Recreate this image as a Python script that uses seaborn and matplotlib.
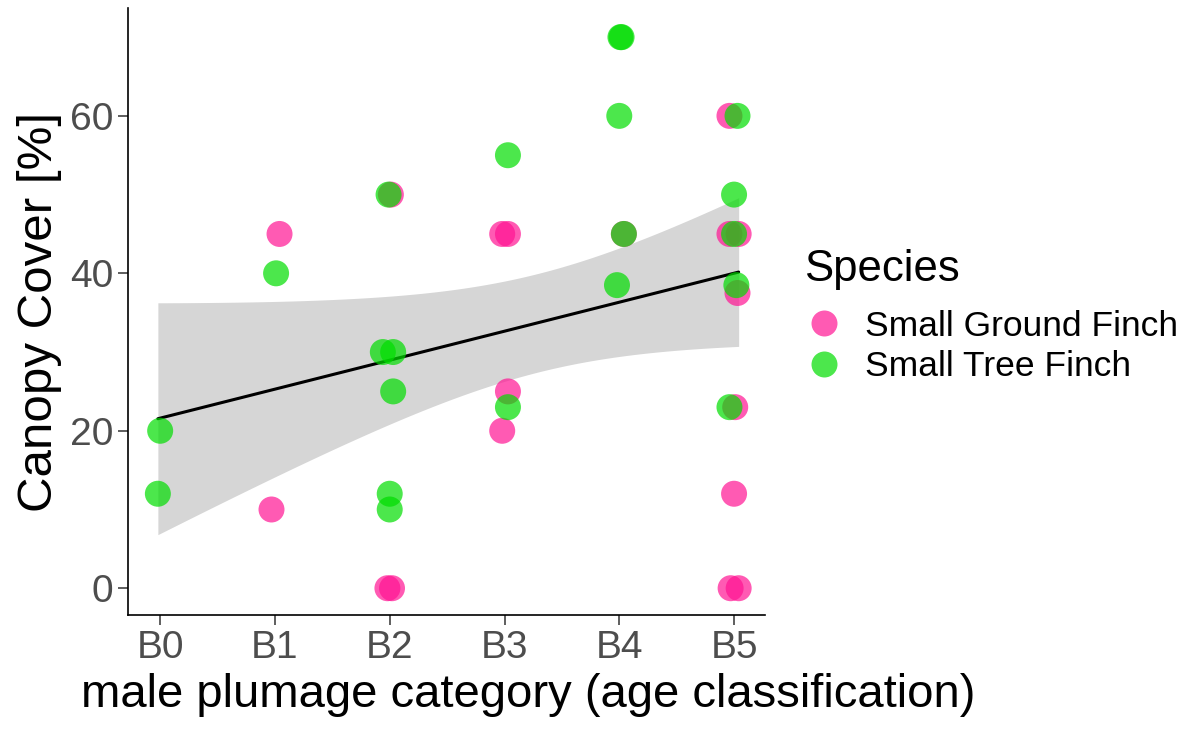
import numpy as np
import pandas as pd
import matplotlib
matplotlib.use("Agg")
import matplotlib.pyplot as plt
import seaborn as sns

# plumage category index (B0..B5), canopy cover, species, read-off jitter
cat_labels = ["B0", "B1", "B2", "B3", "B4", "B5"]

plumage = [0, 0,
           1, 1, 1,
           2, 2, 2, 2, 2, 2, 2, 2, 2,
           3, 3, 3, 3, 3, 3,
           4, 4, 4, 4, 4, 4,
           5, 5, 5, 5, 5, 5, 5, 5, 5, 5, 5, 5, 5]
canopy = [20, 12,
          45, 40, 10,
          50, 50, 30, 30, 25, 12, 10, 0, 0,
          55, 45, 45, 25, 23, 20,
          70, 70, 60, 45, 45, 38.5,
          60, 60, 50, 45, 45, 45, 38.5, 37.5, 23, 23, 12, 0, 0]
species = ["T", "T",
           "G", "T", "G",
           "G", "T", "T", "T", "T", "T", "T", "G", "G",
           "T", "G", "G", "G", "T", "G",
           "T", "T", "T", "G", "T", "T",
           "G", "T", "T", "G", "G", "T", "T", "G", "T", "G", "G", "G", "G"]
jitter = [0.0, -0.02,
          0.04, 0.01, -0.03,
          0.01, -0.01, -0.06, 0.03, 0.03, 0.0, 0.0, -0.02, 0.02,
          0.03, -0.02, 0.03, 0.03, 0.03, -0.02,
          0.01, 0.02, 0.0, 0.04, 0.04, -0.02,
          -0.04, 0.03, 0.0, -0.04, 0.04, 0.0, 0.02, 0.03, -0.04, 0.01, 0.0, -0.03, 0.04]

names = {"G": "Small Ground Finch", "T": "Small Tree Finch"}
palette = {"Small Ground Finch": "#FF1493", "Small Tree Finch": "#00DD00"}

df = pd.DataFrame({"plumage": plumage, "canopy": canopy,
                   "species": [names[s] for s in species]})
df["x"] = df["plumage"] + np.array(jitter)
# pink points go under the green ones, like in the original
df["order"] = df["species"].map({"Small Ground Finch": 0, "Small Tree Finch": 1})
df = df.sort_values("order", kind="stable")

sns.set_style("white")
plt.rcParams["font.family"] = ["Liberation Sans", "DejaVu Sans"]
plt.rcParams["text.color"] = "black"
plt.rcParams["axes.labelcolor"] = "black"

fig = plt.figure(figsize=(11.81, 7.29), dpi=100)
ax = fig.add_axes([0.1084, 0.1564, 0.5394, 0.8326])

# linear fit with the usual t-based 95% band (like lm smoothing)
xs = df["x"].to_numpy()
ys = df["canopy"].to_numpy()
n = len(xs)
slope, intercept = np.polyfit(xs, ys, 1)
grid = np.linspace(xs.min(), xs.max(), 100)
resid = ys - (intercept + slope * xs)
s_err = np.sqrt(np.sum(resid ** 2) / (n - 2))
sxx = np.sum((xs - xs.mean()) ** 2)
se_fit = s_err * np.sqrt(1.0 / n + (grid - xs.mean()) ** 2 / sxx)
t_crit = 2.026  # t(0.975, df=37)
fit = intercept + slope * grid
ax.fill_between(grid, fit - t_crit * se_fit, fit + t_crit * se_fit,
                color="#999999", alpha=0.4, lw=0, zorder=1)
sns.lineplot(x=grid, y=fit, color="black", lw=2.2, ax=ax, zorder=2)

sns.scatterplot(data=df, x="x", y="canopy", hue="species", palette=palette,
                s=350, alpha=0.7, edgecolor="none", ax=ax, legend=True, zorder=3)

ax.set_xlim(-0.28, 5.27)
ax.set_ylim(-3.4, 73.7)
ax.set_xticks(range(6))
ax.set_xticklabels(cat_labels)
ax.set_yticks([0, 20, 40, 60])
ax.tick_params(axis="both", labelsize=28, colors="#333333", labelcolor="#4D4D4D",
               length=7, width=1.1, direction="out", left=True, bottom=True)
ax.set_xlabel("male plumage category (age classification)", fontsize=34, labelpad=4)
ax.xaxis.set_label_coords(0.628, -0.095)
ax.set_ylabel("Canopy Cover [%]", fontsize=35.5, labelpad=6)
sns.despine(ax=ax)
for side in ["left", "bottom"]:
    ax.spines[side].set_color("black")
    ax.spines[side].set_linewidth(1.2)

handles, labels = ax.get_legend_handles_labels()
leg = ax.legend(handles, labels, title="Species", loc="upper left",
                bbox_to_anchor=(0.669, 0.6775), bbox_transform=fig.transFigure,
                frameon=False, fontsize=25.5, title_fontsize=31.5, markerscale=1.0,
                handletextpad=0.62, labelspacing=0.215, borderaxespad=0,
                handlelength=1.1)
leg._legend_box.align = "left"
leg._legend_box.sep = 14

fig.savefig("out.png", dpi=100)
